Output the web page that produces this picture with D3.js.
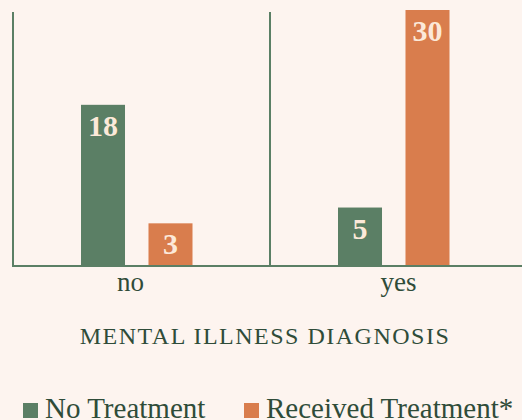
<!DOCTYPE html>
<html>
<head>
<meta charset="utf-8">
<script src="https://cdn.jsdelivr.net/npm/d3@7"></script>
<style>
  body { margin: 0; background: #fdf4ef; }
  svg { display: block; }
</style>
</head>
<body>
<svg width="522" height="420"></svg>
<script>
var categories = ['no', 'yes'];
var series = ['No Treatment', 'Received Treatment*'];
var noTreatment = [18, 5];
var receivedTreatment = [3, 30];
var colors = ['#5b7f65', '#d97d4d'];

var svg = d3.select('svg');
var textColor = '#2f4c39';

svg.append('rect')
    .attr('width', 522)
    .attr('height', 420)
    .attr('fill', '#fdf4ef');

var x = d3.scaleBand()
    .domain(categories)
    .range([13, 527])
    .paddingInner(0)
    .paddingOuter(0);

var xInner = d3.scaleBand()
    .domain(series)
    .range([68, 179.5])
    .paddingInner(0.348);

var y = d3.scaleLinear()
    .domain([-2.4, 30])
    .range([266, 10]);

var color = d3.scaleOrdinal()
    .domain(series)
    .range(colors);

var rows = [];
categories.forEach(function(c, i){
    rows.push({cat: c, key: series[0], value: noTreatment[i]});
    rows.push({cat: c, key: series[1], value: receivedTreatment[i]});
});

// vertical separators at band starts
svg.selectAll('line.sep')
    .data(categories)
    .enter()
    .append('line')
    .attr('class', 'sep')
    .attr('x1', function(d){ return x(d); })
    .attr('x2', function(d){ return x(d); })
    .attr('y1', 12)
    .attr('y2', 266)
    .attr('stroke', '#5b7f65')
    .attr('stroke-width', 2);

svg.selectAll('rect.bar')
    .data(rows)
    .enter()
    .append('rect')
    .attr('class', 'bar')
    .attr('x', function(d){ return x(d.cat) + xInner(d.key); })
    .attr('y', function(d){ return y(d.value); })
    .attr('width', xInner.bandwidth())
    .attr('height', function(d){ return y.range()[0] - y(d.value); })
    .attr('fill', function(d){ return color(d.key); });

svg.selectAll('text.val')
    .data(rows)
    .enter()
    .append('text')
    .attr('class', 'val')
    .attr('x', function(d){ return x(d.cat) + xInner(d.key) + xInner.bandwidth() / 2; })
    .attr('y', function(d){ return Math.max(y(d.value) + 31, 37); })
    .attr('text-anchor', 'middle')
    .attr('font-family', 'Liberation Serif, serif')
    .attr('font-weight', 'bold')
    .attr('font-size', 30)
    .attr('fill', '#fce9d9')
    .text(function(d){ return d.value; });

// baseline
svg.append('line')
    .attr('x1', 12)
    .attr('x2', 522)
    .attr('y1', 266)
    .attr('y2', 266)
    .attr('stroke', '#5b7f65')
    .attr('stroke-width', 2);

svg.selectAll('text.tick')
    .data(categories)
    .enter()
    .append('text')
    .attr('class', 'tick')
    .attr('x', function(d){ return x(d) + x.bandwidth() / 2 - (d === 'no' ? 11 : 0); })
    .attr('y', 291)
    .attr('text-anchor', 'middle')
    .attr('font-family', 'Liberation Serif, serif')
    .attr('font-size', 27)
    .attr('fill', textColor)
    .text(function(d){ return d; });

svg.append('text')
    .attr('x', 265)
    .attr('y', 344)
    .attr('text-anchor', 'middle')
    .attr('font-family', 'Liberation Serif, serif')
    .attr('font-size', 24)
    .attr('letter-spacing', 1.5)
    .attr('fill', textColor)
    .text('MENTAL ILLNESS DIAGNOSIS');

// legend
var legendX = [23, 244];
var legend = svg.selectAll('g.legend')
    .data(series)
    .enter()
    .append('g')
    .attr('class', 'legend')
    .attr('transform', function(d, i){ return 'translate(' + legendX[i] + ',403)'; });

legend.append('rect')
    .attr('width', 15)
    .attr('height', 15)
    .attr('fill', function(d){ return color(d); });

legend.append('text')
    .attr('x', 22)
    .attr('y', 15)
    .attr('font-family', 'Liberation Serif, serif')
    .attr('font-size', 29)
    .attr('fill', textColor)
    .text(function(d){ return d; });
</script>
</body>
</html>
